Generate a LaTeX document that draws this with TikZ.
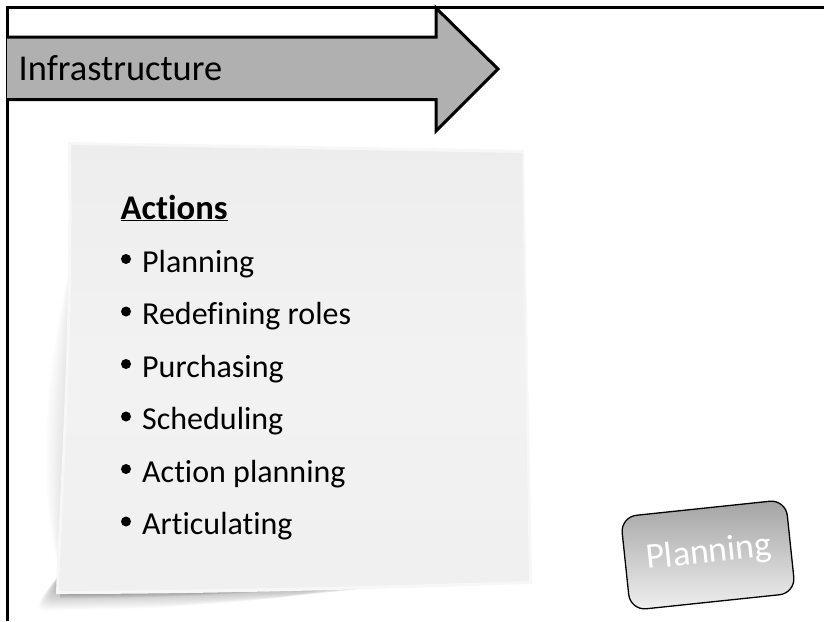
\documentclass[tikz,border=0pt]{standalone}
\usepackage{fontspec}
\setmainfont[Ligatures=NoCommon]{Carlito}
\tikzset{
 frameline/.style={draw=black,line width=3pt},
 arrowshape/.style={draw=black,line width=3pt,fill=black!31,line join=miter},
 bodytext/.style={anchor=base west,inner sep=0pt,font=\fontsize{32}{34}\selectfont,text=black},
 dotmark/.style={circle,fill=black,inner sep=0pt,minimum size=10pt},
}
\begin{document}
\begin{tikzpicture}[x=1pt,y=-1pt]
\useasboundingbox (0,0) rectangle (824,621);
\fill[white] (0,0) rectangle (824,621);
% frame
\draw[frameline] (824,7) -- (7,7) -- (7,621);
% arrow
\draw[arrowshape] (7,37) -- (436,37) -- (436,8) -- (498,69) -- (436,131) -- (436,99.5) -- (7,99.5);
\node[bodytext,font=\fontsize{36.4}{38}\selectfont] (infra) at (18.5,80) {Infrastructure};
% shadow of the note
\foreach \h in {1,2,...,24}{
  \pgfmathsetmacro{\xc}{50-\h*1.0}
  \pgfmathsetmacro{\xe}{470-\h*5}
  \pgfmathsetmacro{\yb}{590+\h*0.85}
  \pgfmathsetmacro{\ye}{588+\h*0.55}
  \fill[black,opacity=0.012] (63,570) .. controls (\xc,\yb+4) and (\xc+10,\yb) .. (\xc+30,\yb)
     -- (\xe-200,\yb-2) .. controls (\xe-100,\ye) and (\xe-40,\ye-3) .. (\xe,578) -- cycle;
}
\foreach \h in {1,2,...,8}{
  \pgfmathsetmacro{\yb}{592+\h*0.8}
  \pgfmathsetmacro{\xe}{430-\h*10}
  \fill[black,opacity=0.03] (60,585) -- (60,\yb) .. controls (150,\yb) and (\xe-120,\yb-2) .. (\xe,583) -- cycle;
}
\foreach \w in {1,2,...,28}{
  \fill[black,opacity=0.0045] (74,250) .. controls (70-\w,370) and (62-\w,490) .. (62,580) -- cycle;
}
% note
\fill[black!3] (68,142) -- (524,150) -- (532,584) .. controls (350,590) and (200,594) .. (56,594) .. controls (60,480) and (71,340) .. (68,142) -- cycle;
\shade[top color=black!7,bottom color=black!6,middle color=black!5]
  (71,145) -- (522,153) -- (529,581) .. controls (350,587) and (200,590) .. (59,591) .. controls (63,480) and (74,340) .. (71,145) -- cycle;
% text of the note
\node[bodytext,font=\fontsize{34.6}{36}\selectfont\bfseries] (acts) at (120.5,219) {\underline{Actions}};
\foreach \n/\t/\y in {a/Planning/272,b/Redefining roles/324.5,c/Purchasing/377,d/Scheduling/429.5,e/Action planning/482,f/Articulating/534.5}{
  \node[bodytext] (t\n) at (142,\y) {\t};
  \node[dotmark] (m\n) at (126,\y-13) {};
}
% tag
\begin{scope}[shift={(708,555)},rotate=6]
\shade[top color=black!36,bottom color=black!6,draw=black,line width=1.3pt,rounded corners=16pt]
  (-83,-47) rectangle (83,47);
\end{scope}
\node[inner sep=0pt,text=white,font=\fontsize{36}{38}\selectfont,rotate=6] (tag) at (709,553) {Planning};
\end{tikzpicture}
\end{document}
